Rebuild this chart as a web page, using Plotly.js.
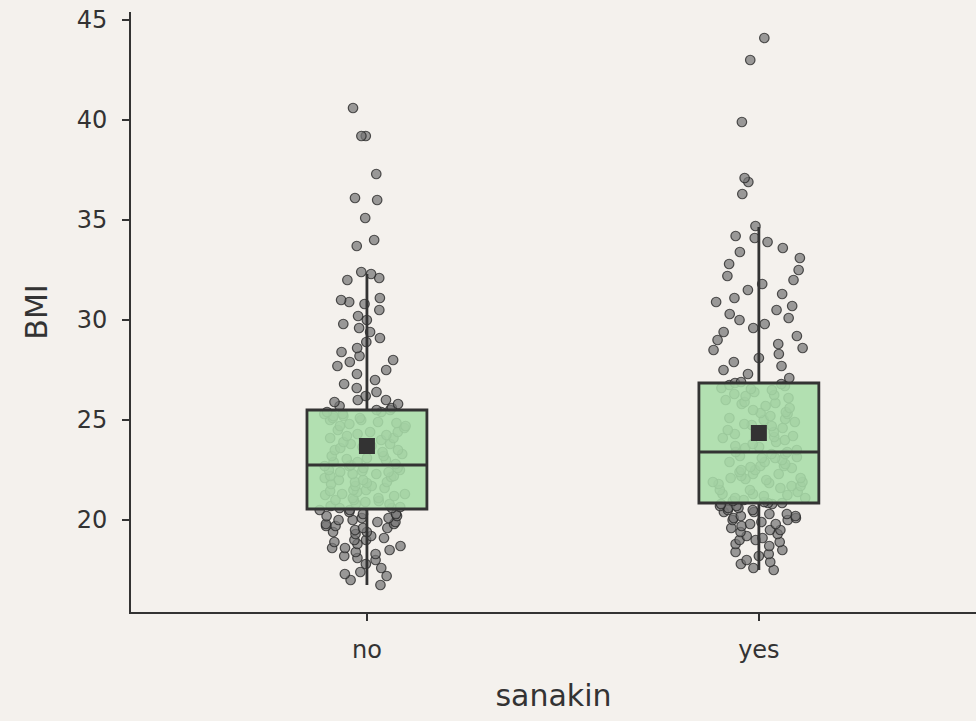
<!DOCTYPE html>
<html>
<head>
<meta charset="utf-8">
<script src="https://cdn.plot.ly/plotly-3.0.1.min.js"></script>
<style>html,body{margin:0;padding:0;background:#f4f1ed;}</style>
</head>
<body>
<div id="chart" style="width:976px;height:721px;"></div>
<script>
// Categories
const categories = ['no', 'yes'];

// Individual BMI values
const bmiNo = [
  16.75, 17.0, 17.2, 17.3, 17.4, 17.6, 17.8, 18.0, 18.1, 18.2, 18.3, 18.4, 18.5, 18.6, 18.6,
  18.7, 18.8, 18.9, 19.0, 19.0, 19.1, 19.2, 19.3, 19.4, 19.4, 19.5, 19.6, 19.6, 19.7, 19.7,
  19.8, 19.8, 19.9, 19.9, 20.0, 20.0, 20.1, 20.1, 20.2, 20.2, 20.3, 20.3, 20.4, 20.5, 20.5,
  20.6, 20.6, 20.7, 20.8, 20.8, 20.9, 21.0, 21.0, 21.1, 21.1, 21.2, 21.3, 21.3, 21.4, 21.5,
  21.5, 21.6, 21.7, 21.7, 21.8, 21.9, 21.9, 22.0, 22.0, 22.1, 22.2, 22.2, 22.3, 22.3, 22.4,
  22.4, 22.5, 22.5, 22.6, 22.6, 22.7, 22.7, 22.75, 21.25, 20.95, 21.85, 22.15, 21.45, 20.65, 22.45,
  22.8, 22.9, 22.9, 23.0, 23.1, 23.2, 23.2, 23.3, 23.4, 23.5, 23.5, 23.6, 23.7, 23.8, 23.8,
  23.9, 24.0, 24.1, 24.1, 24.2, 24.3, 24.4, 24.4, 24.5, 24.6, 24.7, 24.7, 24.8, 24.9, 25.0,
  25.0, 25.1, 25.1, 25.2, 25.2, 25.3, 25.3, 25.4, 25.4, 25.5, 25.5, 23.05, 23.65, 24.25, 24.85,
  25.6, 25.7, 25.8, 25.9, 26.0, 26.0, 26.2, 26.4, 26.6, 26.8, 27.0, 27.3, 27.5, 27.7, 27.9,
  28.0, 28.2, 28.4, 28.6, 28.9, 29.1, 29.4, 29.6, 29.8, 30.0, 30.2, 30.5, 30.8, 30.9, 31.0,
  31.1, 32.0, 32.1, 32.3, 32.4, 33.7, 34.0, 35.1, 36.0, 36.1, 37.3, 39.2, 39.2, 40.6
];
const bmiYes = [
  17.5, 17.6, 17.8, 17.9, 18.0, 18.2, 18.3, 18.4, 18.5, 18.7, 18.8, 18.9, 19.0, 19.0, 19.1,
  19.2, 19.3, 19.4, 19.5, 19.5, 19.6, 19.7, 19.8, 19.8, 19.9, 20.0, 20.0, 20.1, 20.1, 20.2,
  20.2, 20.3, 20.3, 20.4, 20.4, 20.5, 20.5, 20.6, 20.6, 20.7, 20.7, 20.8, 20.8, 20.85, 20.85,
  20.9, 21.0, 21.1, 21.1, 21.2, 21.3, 21.3, 21.4, 21.5, 21.5, 21.6, 21.7, 21.7, 21.8, 21.9,
  21.9, 22.0, 22.1, 22.1, 22.2, 22.3, 22.3, 22.4, 22.5, 22.5, 22.6, 22.7, 22.7, 22.8, 22.9,
  22.9, 23.0, 23.1, 23.1, 23.2, 23.3, 23.3, 23.4, 23.4, 21.25, 22.05, 22.65, 21.85, 23.15, 20.95,
  23.5, 23.6, 23.7, 23.8, 23.9, 24.0, 24.1, 24.2, 24.3, 24.4, 24.5, 24.6, 24.7, 24.8, 24.9,
  25.0, 25.1, 25.2, 25.3, 25.4, 25.5, 25.6, 25.7, 25.8, 25.9, 26.0, 26.1, 26.2, 26.3, 26.4,
  26.5, 26.6, 26.7, 26.8, 26.85, 23.65, 24.15, 24.75, 25.35, 25.85, 26.25, 26.55, 24.45, 25.05, 26.75,
  26.9, 27.1, 27.3, 27.5, 27.7, 27.9, 28.1, 28.3, 28.5, 28.6, 28.8, 29.0, 29.2, 29.4, 29.6,
  29.8, 30.0, 30.1, 30.3, 30.5, 30.7, 30.9, 31.1, 31.3, 31.5, 31.8, 32.0, 32.2, 32.5, 32.8,
  33.1, 33.4, 33.6, 33.9, 34.1, 34.2, 34.7, 36.3, 36.9, 37.1, 39.9, 43.0, 44.1
];

// Box statistics
const q1 = [20.55, 20.85];
const median = [22.75, 23.4];
const q3 = [25.5, 26.85];
const lowerFence = [16.75, 17.5];
const upperFence = [32.3, 34.65];
const means = [23.7, 24.35];

const yTicks = [20, 25, 30, 35, 40, 45];

const ink = '#333333';
const groups = [bmiNo, bmiYes];

// Jittered points: one trace per value band so that sparse tails keep a wide spread
const pointTraces = [];
const bandEdges = [
  [-Infinity, 0], [0, 1], [1, Infinity]
];
bandEdges.forEach(function (edge) {
  const xs = [], ys = [];
  groups.forEach(function (vals, g) {
    const cuts = [q1[g], q3[g]];
    const lo = edge[0] === -Infinity ? -Infinity : cuts[edge[0]];
    const hi = edge[1] === Infinity ? Infinity : cuts[edge[1]];
    vals.forEach(function (v) {
      if (v > lo && v <= hi) { xs.push(categories[g]); ys.push(v); }
    });
  });
  pointTraces.push({
    type: 'box',
    x: xs,
    y: ys,
    boxpoints: 'all',
    jitter: 0.8,
    pointpos: 0,
    width: 0.306,
    fillcolor: 'rgba(0,0,0,0)',
    line: {color: 'rgba(0,0,0,0)', width: 0},
    whiskerwidth: 0,
    marker: {
      color: 'rgba(118,118,118,0.72)',
      size: 9.5,
      line: {color: 'rgba(40,40,40,0.8)', width: 1.2}
    },
    hoverinfo: 'y',
    showlegend: false
  });
});

const traces = pointTraces.concat([
  {
    type: 'box',
    x: categories,
    q1: q1,
    median: median,
    q3: q3,
    lowerfence: lowerFence,
    upperfence: upperFence,
    boxpoints: false,
    width: 0.306,
    whiskerwidth: 0,
    fillcolor: 'rgba(168,221,168,0.88)',
    line: {color: ink, width: 2.8},
    showlegend: false
  },
  {
    type: 'scatter',
    mode: 'markers',
    x: categories,
    y: means,
    marker: {symbol: 'square', size: 16, color: ink},
    showlegend: false
  }
]);

const layout = {
  width: 976,
  height: 721,
  paper_bgcolor: '#f4f1ed',
  plot_bgcolor: '#f4f1ed',
  margin: {l: 131, r: 0, t: 12, b: 109},
  font: {family: 'DejaVu Sans', color: ink},
  showlegend: false,
  boxmode: 'overlay',
  xaxis: {
    type: 'category',
    range: [-0.602, 1.554],
    showline: true,
    linecolor: ink,
    linewidth: 2,
    ticks: 'outside',
    ticklen: 7,
    tickwidth: 2,
    tickcolor: ink,
    showgrid: false,
    zeroline: false,
    tickfont: {size: 24, color: ink},
    ticklabelstandoff: 8,
    title: {text: 'sanakin', font: {size: 30, color: ink}, standoff: 22}
  },
  yaxis: {
    range: [15.4, 45.4],
    tickvals: yTicks,
    showline: true,
    linecolor: ink,
    linewidth: 2,
    ticks: 'outside',
    ticklen: 7,
    tickwidth: 2,
    tickcolor: ink,
    showgrid: false,
    zeroline: false,
    tickfont: {size: 24, color: ink},
    ticklabelstandoff: 10,
    title: {text: 'BMI', font: {size: 30, color: ink}, standoff: 20}
  }
};

Plotly.newPlot('chart', traces, layout, {displayModeBar: false, staticPlot: true});
</script>
</body>
</html>
